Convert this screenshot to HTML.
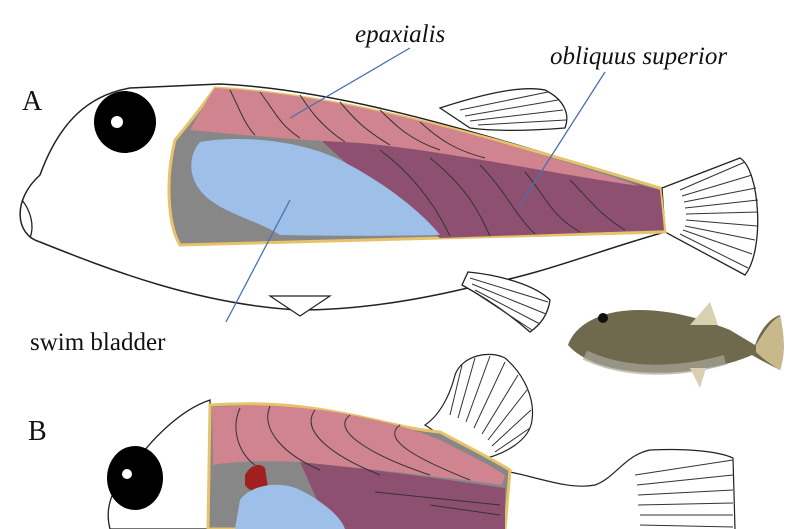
<!DOCTYPE html>
<html><head><style>
html,body{margin:0;padding:0;background:#fff;}
svg{display:block;}
text{font-family:"Liberation Serif",serif;fill:#111;}
</style></head><body>
<svg width="800" height="529" viewBox="0 0 800 529" xmlns="http://www.w3.org/2000/svg">
<!-- Fish A body -->
<path d="M40,175 C60,120 90,95 130,88 L220,84 C350,90 500,140 660,188 L665,232 C600,250 540,275 480,285 C420,300 360,310 300,310 C200,305 110,270 40,242 C15,235 12,200 40,175 Z" fill="#fff" stroke="#222" stroke-width="1.5"/>
<path d="M22,200 C30,210 35,225 30,238" fill="none" stroke="#222" stroke-width="1.3"/>
<!-- tail A -->
<path d="M662,188 L740,158 C760,170 765,250 745,275 L665,232 Z" fill="#fff" stroke="#222" stroke-width="1.3"/>
<g stroke="#333" stroke-width="1" fill="none">
<path d="M680,190 L745,162"/><path d="M682,196 L752,175"/><path d="M684,202 L756,188"/><path d="M685,208 L758,200"/><path d="M686,214 L758,212"/><path d="M686,220 L757,226"/><path d="M685,226 L755,240"/><path d="M683,230 L752,254"/><path d="M680,234 L748,268"/>
</g>
<!-- dorsal fin A -->
<path d="M440,108 C480,95 520,85 545,90 C565,100 570,115 565,128 C540,130 500,132 470,128 Z" fill="#fff" stroke="#222" stroke-width="1.3"/>
<g stroke="#333" stroke-width="1"><path d="M460,110 L548,92"/><path d="M465,116 L558,100"/><path d="M470,121 L563,110"/><path d="M478,125 L566,120"/></g>
<!-- anal fin A -->
<path d="M468,272 C500,275 535,285 550,300 C548,315 540,325 530,332 C505,310 480,295 462,285 Z" fill="#fff" stroke="#222" stroke-width="1.3"/>
<g stroke="#333" stroke-width="1"><path d="M470,278 L548,302"/><path d="M472,284 L546,314"/><path d="M475,290 L540,324"/><path d="M480,296 L532,330"/></g>
<path d="M270,296 L330,296 L300,316 Z" fill="#fff" stroke="#222" stroke-width="1.2"/>
<!-- cavity A -->
<path d="M175,140 C200,110 210,95 215,88 C350,95 500,140 660,188 L665,232 L180,245 C168,225 165,180 175,140 Z" fill="#878787" stroke="#e6c36a" stroke-width="3"/>
<path d="M300,120 C420,130 540,160 660,190 L664,230 L440,238 C400,210 340,160 300,120 Z" fill="#8e5071"/>
<path d="M215,88 C350,95 500,140 640,186 C560,175 440,150 360,143 C300,140 240,135 190,130 C200,112 208,98 215,88 Z" fill="#cf848f"/>
<g stroke="#333" stroke-width="1" fill="none">
<path d="M230,90 C240,110 245,125 255,135"/><path d="M260,92 C275,112 280,125 300,138"/><path d="M300,95 C310,110 320,125 345,142"/><path d="M340,102 C355,120 365,130 390,145"/><path d="M380,110 C395,125 410,140 440,150"/><path d="M420,122 C440,140 455,150 485,158"/>
<path d="M380,150 C420,180 440,215 450,236"/><path d="M430,158 C470,190 480,215 490,236"/><path d="M480,165 C505,190 515,215 535,234"/><path d="M525,172 C545,195 550,215 580,232"/><path d="M570,180 C590,200 600,215 625,230"/>
</g>
<path d="M200,142 C240,135 300,140 340,160 C380,180 420,210 440,235 C400,236 330,236 280,235 C260,222 230,215 210,200 C190,185 185,160 200,142 Z" fill="#9ec0e8"/>
<circle cx="125" cy="122" r="31" fill="#000"/>
<circle cx="117" cy="122" r="6" fill="#fff"/>
<g stroke="#4a6fb0" stroke-width="1.3"><line x1="410" y1="48" x2="290" y2="118"/><line x1="605" y1="72" x2="520" y2="205"/><line x1="290" y1="200" x2="226" y2="322"/></g>
<text x="22" y="110" font-size="28">A</text>
<text x="355" y="42" font-size="25" font-style="italic">epaxialis</text>
<text x="550" y="64" font-size="25" font-style="italic">obliquus superior</text>
<text x="30" y="350" font-size="25">swim bladder</text>
<text x="28" y="440" font-size="28">B</text>
<!-- photo fish -->
<path d="M568,345 C575,325 600,310 640,310 C670,310 700,318 730,330 L755,345 C760,330 770,318 780,315 C785,340 785,355 780,370 C770,365 760,360 752,355 C730,365 700,370 680,372 C640,375 590,370 568,345 Z" fill="#6f6a4e"/>
<path d="M585,355 C620,372 670,375 725,360" fill="none" stroke="#a9a79a" stroke-width="10" opacity=".7"/>
<path d="M690,325 L710,302 L718,325 Z" fill="#d8d0b0"/>
<path d="M690,368 L700,388 L706,368 Z" fill="#d8d0b0"/>
<path d="M756,345 C765,330 772,320 780,316 C785,340 785,356 780,370 C770,364 762,358 756,352 Z" fill="#c9b98a"/>
<circle cx="603" cy="318" r="5" fill="#111"/>
<!-- Fish B head -->
<path d="M130,470 C150,440 180,410 210,400 L210,529 L110,529 C105,510 110,490 130,470 Z" fill="#fff" stroke="#222" stroke-width="1.3"/>
<!-- B rear body line + tail -->
<path d="M510,472 C540,478 570,490 595,485 C615,478 625,455 650,450 C690,448 720,452 733,458 L735,529" fill="none" stroke="#222" stroke-width="1.2"/>
<g stroke="#333" stroke-width="1"><path d="M635,475 L733,460"/><path d="M637,485 L733,475"/><path d="M638,495 L733,490"/><path d="M638,505 L733,503"/><path d="M640,515 L733,515"/><path d="M640,525 L733,527"/></g>
<!-- dorsal fin B -->
<path d="M425,425 C440,415 450,395 455,375 C462,355 490,350 505,358 C525,375 535,400 532,420 C530,440 505,455 478,460 Z" fill="#fff" stroke="#222" stroke-width="1.2"/>
<g stroke="#333" stroke-width="1" fill="none"><path d="M450,415 L462,365"/><path d="M458,418 L475,358"/><path d="M466,422 L490,356"/><path d="M474,428 L505,362"/><path d="M482,434 L518,375"/><path d="M488,440 L527,390"/><path d="M492,446 L531,410"/><path d="M495,452 L530,428"/></g>
<!-- cavity B -->
<path d="M210,405 C280,400 330,410 375,420 C410,428 420,430 440,432 C470,448 490,458 510,470 L505,529 L208,529 Z" fill="#878787" stroke="#e6c36a" stroke-width="3"/>
<path d="M300,462 C380,470 450,480 505,488 L505,529 L330,529 Z" fill="#8e5071"/>
<path d="M212,407 C280,402 330,410 375,420 C410,428 420,432 440,440 C470,455 490,465 505,475 L502,485 C430,475 360,468 300,462 C260,460 230,462 213,465 Z" fill="#cf848f"/>
<g stroke="#333" stroke-width="1" fill="none"><path d="M240,408 C230,430 240,455 255,465"/><path d="M270,406 C260,430 285,455 320,470"/><path d="M315,410 C300,430 330,455 380,475"/><path d="M350,415 C330,430 370,455 430,475"/><path d="M400,425 C380,440 420,460 470,480"/><path d="M375,492 L500,505"/><path d="M430,505 L500,515"/></g>
<path d="M245,475 C250,465 260,462 265,468 L268,488 C260,495 250,492 245,485 Z" fill="#a02020"/>
<path d="M240,500 C250,485 280,480 300,490 C320,500 340,515 345,529 L235,529 Z" fill="#9ec0e8"/>
<ellipse cx="135" cy="478" rx="28" ry="32" fill="#000"/>
<circle cx="127" cy="474" r="5" fill="#fff"/>
</svg>
</body></html>
